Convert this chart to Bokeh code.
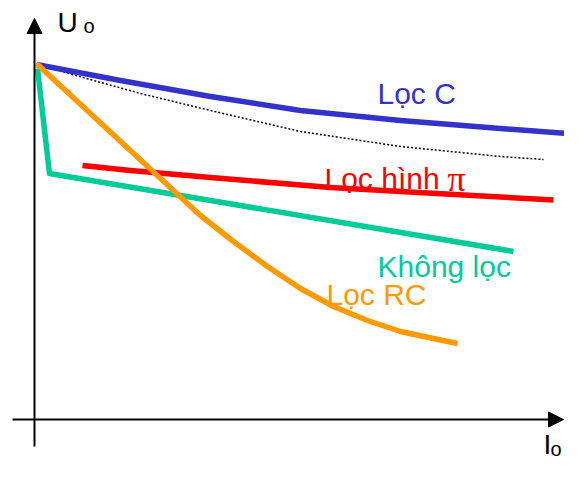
from bokeh.plotting import figure
from bokeh.models import Arrow, NormalHead, Range1d
from bokeh.core.properties import value
from bokeh.embed import file_html
from bokeh.resources import INLINE

# Data (I_o on x, U_o on y, arbitrary units)
loc_c_x = [2, 86, 176, 266, 366, 466, 532]
loc_c_y = [355, 339, 323, 309, 299, 291, 286]
ideal_x = [2, 106, 176, 266, 366, 466, 509]
ideal_y = [355, 326, 309, 288, 273, 263, 260]
loc_pi_x = [48, 96, 176, 296, 366, 466, 519]
loc_pi_y = [254, 249, 242, 232, 228, 222.5, 219.5]
khong_loc_x = [3, 15, 176, 479]
khong_loc_y = [351, 246, 219, 168]
loc_rc_x = [2, 166, 199, 233, 266, 299, 333, 366, 399, 423]
loc_rc_y = [356, 204, 178, 153, 131, 113, 99, 88, 81, 76]

FONT = value("Liberation Sans")

p = figure(width=564, height=463, output_backend="svg", toolbar_location=None,
           x_range=Range1d(-34, 530), y_range=Range1d(-44, 419),
           min_border=0, min_border_left=0, min_border_right=0,
           min_border_top=0, min_border_bottom=0)
p.axis.visible = False
p.grid.visible = False
p.outline_line_color = None
p.background_fill_color = "white"
p.border_fill_color = "white"

# axes with arrows
p.add_layout(Arrow(x_start=-22, y_start=0, x_end=529, y_end=0, line_width=2, line_color="black",
                   end=NormalHead(size=15, fill_color="black", line_color="black")))
p.add_layout(Arrow(x_start=0, y_start=-27, x_end=0, y_end=401, line_width=2, line_color="black",
                   end=NormalHead(size=15, fill_color="black", line_color="black")))

p.line(khong_loc_x, khong_loc_y, line_color="#00CC99", line_width=5.5, line_join="round")
p.line(ideal_x, ideal_y, line_color="black", line_width=1.5, line_dash="2 2")
p.line(loc_pi_x, loc_pi_y, line_color="#FF0000", line_width=5.5, line_join="round")
p.line(loc_c_x, loc_c_y, line_color="#3333CC", line_width=5.5, line_join="round")
p.line(loc_rc_x, loc_rc_y, line_color="#FF9900", line_width=5.5, line_join="round")

def label(x, y, t, color, size, font=FONT):
    p.text([x], [y], text=[t], text_color=color, text_font=font,
           text_font_size=f"{size}px", text_baseline="alphabetic", text_align="left")

label(343, 326, "Lọc C", "#3333CC", 30)
label(290, 241, "Lọc hình", "#FF0000", 30)
label(413, 241, "π", "#FF0000", 36, value("Liberation Serif"))
label(343, 153, "Không lọc", "#00CC99", 30)
label(292, 125, "Lọc RC", "#FF9900", 30)
label(23, 397, "U", "black", 28)
label(49, 394, "o", "black", 20)
label(509, -25, "I", "black", 28)
label(516, -29, "o", "black", 20)

open("out.html", "w").write(file_html(p, INLINE))
